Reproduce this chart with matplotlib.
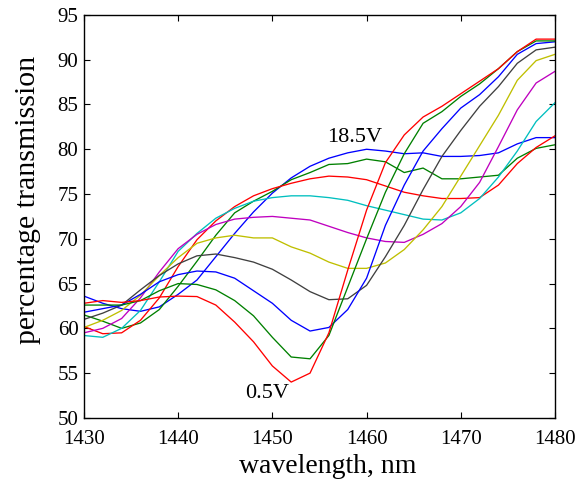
import matplotlib
matplotlib.use("Agg")
import matplotlib.pyplot as plt

wavelength = [1430, 1432, 1434, 1436, 1438, 1440, 1442, 1444, 1446, 1448, 1450, 1452, 1454,
              1456, 1458, 1460, 1462, 1464, 1466, 1468, 1470, 1472, 1474, 1476, 1478, 1480]

v18_5 = [63.6, 62.8, 62.2, 61.9, 62.4, 63.8, 65.4, 68.0, 70.6, 73.0, 75.1, 76.8, 78.1,
         79.0, 79.6, 80.0, 79.8, 79.5, 79.6, 79.2, 79.2, 79.3, 79.6, 80.6, 81.3, 81.3]
v16_5 = [61.5, 60.8, 60.0, 60.6, 62.1, 64.7, 67.5, 70.4, 72.9, 74.2, 75.3, 76.6, 77.4,
         78.3, 78.4, 78.9, 78.6, 77.4, 77.9, 76.7, 76.7, 76.9, 77.1, 79.0, 80.1, 80.5]
v14_5 = [60.2, 59.4, 59.5, 60.9, 63.4, 66.9, 69.9, 72.0, 73.6, 74.8, 75.6, 76.2, 76.7,
         77.0, 76.9, 76.6, 75.9, 75.2, 74.8, 74.5, 74.5, 74.6, 76.0, 78.4, 80.2, 81.5]
v12_5 = [59.2, 59.0, 60.0, 62.0, 65.2, 68.6, 70.6, 72.3, 73.4, 74.2, 74.6, 74.8, 74.8,
         74.6, 74.3, 73.7, 73.2, 72.7, 72.2, 72.1, 72.9, 74.5, 76.9, 79.8, 83.1, 85.2]
v10_5 = [59.5, 60.0, 61.1, 63.4, 66.3, 68.9, 70.5, 71.6, 72.2, 72.4, 72.5, 72.3, 72.1,
         71.4, 70.7, 70.1, 69.7, 69.6, 70.5, 71.7, 73.6, 76.3, 80.3, 84.4, 87.4, 88.7]
v8_5 = [60.1, 60.9, 62.0, 63.7, 65.9, 67.9, 69.5, 70.1, 70.4, 70.1, 70.1, 69.1, 68.4,
        67.4, 66.7, 66.7, 67.3, 68.8, 71.0, 73.6, 77.0, 80.4, 83.8, 87.7, 89.9, 90.6]
v6_5 = [61.0, 61.7, 62.6, 64.3, 65.9, 67.2, 68.1, 68.3, 67.9, 67.4, 66.6, 65.4, 64.1,
        63.2, 63.3, 64.8, 68.0, 71.5, 75.5, 79.2, 82.1, 84.8, 87.0, 89.6, 91.1, 91.4]
v4_5 = [61.8, 62.2, 62.6, 63.8, 65.2, 66.0, 66.4, 66.3, 65.6, 64.2, 62.8, 60.9, 59.7,
        60.1, 62.1, 65.6, 71.5, 76.0, 79.8, 82.3, 84.6, 86.1, 88.1, 90.6, 91.8, 92.0]
v2_5 = [62.6, 62.6, 62.6, 63.1, 64.2, 65.0, 64.9, 64.3, 63.1, 61.4, 59.0, 56.8, 56.6,
        59.2, 64.6, 70.0, 75.2, 79.5, 82.9, 84.2, 85.9, 87.3, 89.0, 90.9, 92.1, 92.1]
v0_5 = [62.8, 63.1, 62.9, 63.1, 63.5, 63.6, 63.55, 62.6, 60.7, 58.5, 55.8, 54.0, 55.0,
        59.5, 66.5, 73.2, 78.5, 81.6, 83.6, 84.8, 86.2, 87.6, 89.0, 90.9, 92.3, 92.3]

series = [v18_5, v16_5, v14_5, v12_5, v10_5, v8_5, v6_5, v4_5, v2_5, v0_5]
colors = ["#0000FF", "#008000", "#FF0000", "#00BFBF", "#BF00BF", "#BFBF00", "#404040",
          "#0000FF", "#008000", "#FF0000"]

xticks = [1430, 1440, 1450, 1460, 1470, 1480]
yticks = [50, 55, 60, 65, 70, 75, 80, 85, 90, 95]

plt.rcParams["font.family"] = ["Liberation Serif", "DejaVu Serif"]

fig = plt.figure(figsize=(5.79, 4.82), dpi=100)
ax = fig.add_axes([0.145, 0.133, 0.8135, 0.836])

for vals, c in zip(series, colors):
    ax.plot(wavelength, vals, color=c, linewidth=0.95)

ax.set_xlim(1430, 1480)
ax.set_ylim(50, 95)
ax.set_xticks(xticks)
ax.set_yticks(yticks)
ax.tick_params(direction="in", length=4, width=0.8, top=True, right=True,
               labelsize=15)
ax.tick_params(axis="x", pad=9)
ax.tick_params(axis="y", pad=4)
for s in ax.spines.values():
    s.set_linewidth(1.0)

ax.set_xlabel("wavelength, nm", fontsize=20, labelpad=3)
ax.set_ylabel("percentage transmission", fontsize=21.5, labelpad=12)
ax.xaxis.label.set_x(0.518)
ax.yaxis.label.set_y(0.54)

ax.text(1458.7, 81.3, "18.5V", fontsize=16, ha="center", va="center")
ax.text(1449.4, 52.7, "0.5V", fontsize=16, ha="center", va="center")

fig.savefig("out.png", dpi=100)
